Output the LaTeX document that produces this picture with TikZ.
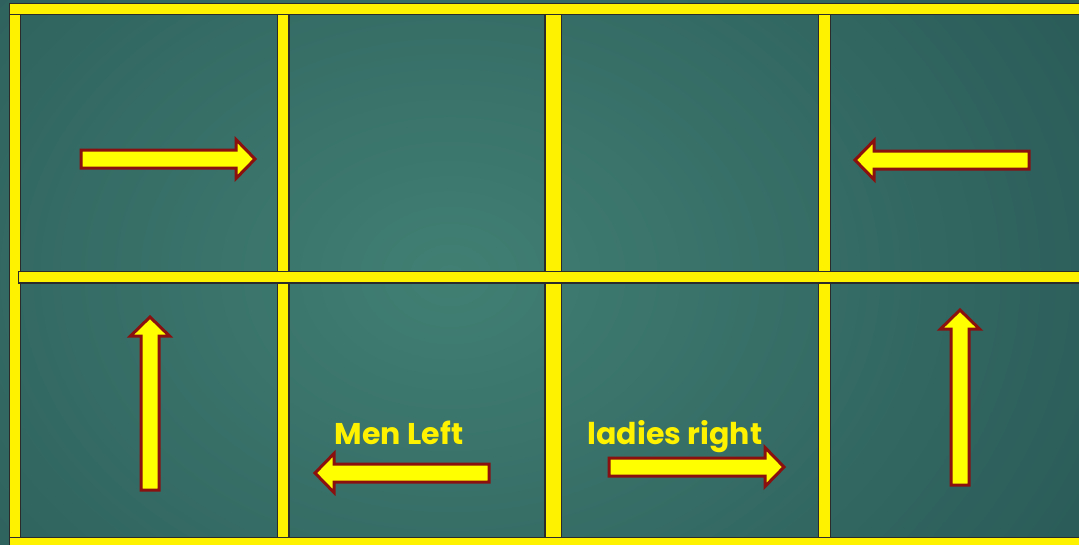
\documentclass[tikz,border=0pt]{standalone}
\usepackage{fontspec}
\setmainfont{Poppins}
\usetikzlibrary{calc}
\definecolor{BoardMid}{HTML}{417F73}
\definecolor{BoardEdge}{HTML}{2B5C59}
\definecolor{Lane}{HTML}{FFF200}
\definecolor{LaneEdge}{HTML}{2B2B2B}
\definecolor{ArrowRed}{HTML}{8A1010}
\definecolor{ArrowFill}{HTML}{FFFF00}
\newcommand{\floorArrow}[4]{% tail x, tail y, length, angle
  \draw[floorarrow,shift={(#1,#2)},rotate=#4] (0,-9) -- ({#3-19},-9) -- ({#3-19},-19.5) -- (#3,0)
    -- ({#3-19},19.5) -- ({#3-19},9) -- (0,9) -- cycle;}

\begin{document}
\begin{tikzpicture}[x=1pt,y=-1pt,
  lane/.style={fill=Lane,draw=LaneEdge,line width=1.2pt},
  floorarrow/.style={fill=ArrowFill,draw=ArrowRed,line width=3pt,miter limit=10},
  caption/.style={text=Lane,font=\fontsize{30}{36}\selectfont\bfseries,anchor=base,inner sep=0pt}]
  \useasboundingbox (0,0) rectangle (1079,544);
  \clip (0,0) rectangle (1079,544);
  \shade[inner color=BoardMid,outer color=BoardEdge] (-250,-260) rectangle (1150,810);
  % vertical lanes
  \draw[lane] (9.5,10) rectangle (20.5,550);
  \draw[lane] (277.5,10) rectangle (289,540);
  \draw[lane] (545,10) rectangle (561.5,540);
  \draw[lane] (818.5,10) rectangle (830.5,540);
  % horizontal lanes
  \draw[lane] (9.5,3.5) rectangle (1085,14.5);
  \draw[lane] (18.5,271.5) rectangle (1085,283);
  \draw[lane] (9.5,537.5) rectangle (1085,550);
  % arrows
  \floorArrow{81}{159}{174}{0}
  \floorArrow{1029}{160}{174}{180}
  \floorArrow{150}{490}{173}{90}
  \floorArrow{960}{485}{175}{90}
  \floorArrow{489}{473}{174}{180}
  \floorArrow{609}{467}{175}{0}
  % labels
  \node[caption] (men) at (399,444) {Men Left};
  \node[caption] (ladies) at (675,444) {ladies right};
\end{tikzpicture}
\end{document}
